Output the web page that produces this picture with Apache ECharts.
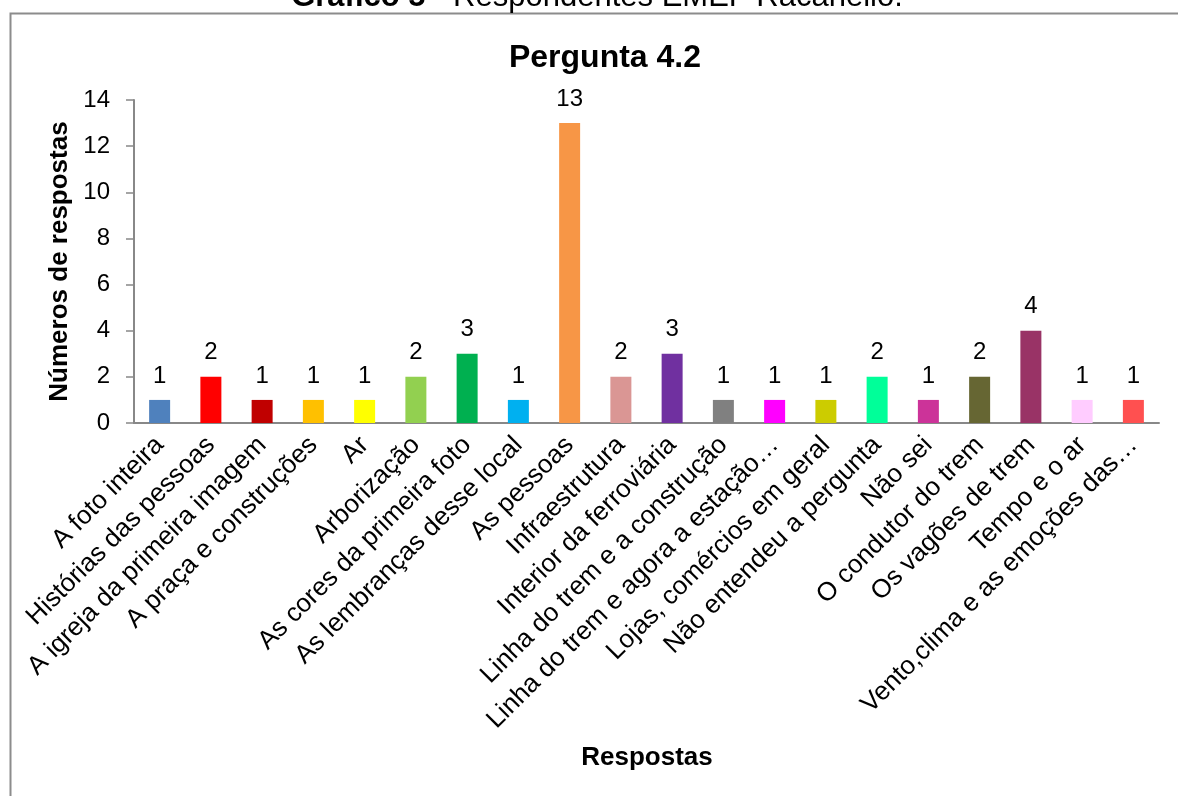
<!DOCTYPE html>
<html><head><meta charset="utf-8">
<script src="https://cdn.jsdelivr.net/npm/echarts@6/dist/echarts.min.js"></script>
<style>html,body{margin:0;padding:0;background:#fff}#c{width:1178px;height:796px}</style>
</head><body><div id="c"></div>
<script>
const categories = ["A foto inteira","Histórias das pessoas","A igreja da primeira imagem","A praça e construções","Ar","Arborização","As cores da primeira foto","As lembranças desse local","As pessoas","Infraestrutura","Interior da ferroviária","Linha do trem e a construção","Linha do trem e agora a estação…","Lojas, comércios em geral","Não entendeu a pergunta","Não sei","O condutor do trem","Os vagões de trem","Tempo e o ar","Vento,clima e as emoções das…"];
const values = [1,2,1,1,1,2,3,1,13,2,3,1,1,1,2,1,2,4,1,1];
const colors = ["#4F81BD","#FF0000","#C00000","#FFC000","#FFFF00","#92D050","#00B050","#00B0F0","#F79646","#DA9694","#7030A0","#808080","#FF00FF","#CCCC00","#00FF99","#CC3399","#666633","#993366","#FFCCFF","#FF5050"];
const yTicks = [0,2,4,6,8,10,12,14];
const F = "Liberation Sans, Arial, sans-serif";
const chart = echarts.init(document.getElementById('c'));
chart.setOption({
  animation:false,
  textStyle:{fontFamily:F},
  graphic:[
    {type:'rect',left:8,top:11,shape:{width:1200,height:820},style:{fill:'none',stroke:'#8c8c8c',lineWidth:2},z:-1},
    {type:'text',x:597,y:13,style:{text:'{b|Gráfico 5} - Respondentes EMEF Racanello.',align:'center',verticalAlign:'bottom',fontSize:31,fontFamily:F,fill:'#000',rich:{b:{fontWeight:'bold',fontSize:31,fontFamily:F}}}},
    {type:'text',x:647,y:758,style:{text:'Respostas',align:'center',verticalAlign:'middle',fontSize:26,fontWeight:'bold',fontFamily:F,fill:'#000'}}
  ],
  title:{text:'Pergunta 4.2',left:600,textAlign:'center',top:37,textStyle:{fontSize:32,fontWeight:'bold',fontFamily:F,color:'#000'}},
  grid:{left:134,right:19,top:100,bottom:373,containLabel:false},
  xAxis:{type:'category',data:categories,
    axisLine:{lineStyle:{color:'#888',width:2}},axisTick:{show:false},
    axisLabel:{interval:0,rotate:45,fontSize:26,color:'#000',fontFamily:F,margin:18}},
  yAxis:{type:'value',min:0,max:14,interval:2,
    name:'Números de respostas',nameLocation:'middle',nameGap:60,
    nameTextStyle:{fontSize:26,fontWeight:'bold',color:'#000',fontFamily:F},
    axisLine:{show:true,lineStyle:{color:'#888',width:2}},
    axisTick:{show:true,length:8,lineStyle:{color:'#888',width:1.5}},
    splitLine:{show:false},
    axisLabel:{fontSize:24,color:'#000',fontFamily:F,margin:24,
      formatter:v=>yTicks.includes(v)?String(v):''}},
  series:[{type:'bar',barWidth:21,
    data:values.map((v,i)=>({value:v,itemStyle:{color:colors[i]}})),
    label:{show:true,position:'top',distance:12,fontSize:24,color:'#000',fontFamily:F}}]
});
</script></body></html>
